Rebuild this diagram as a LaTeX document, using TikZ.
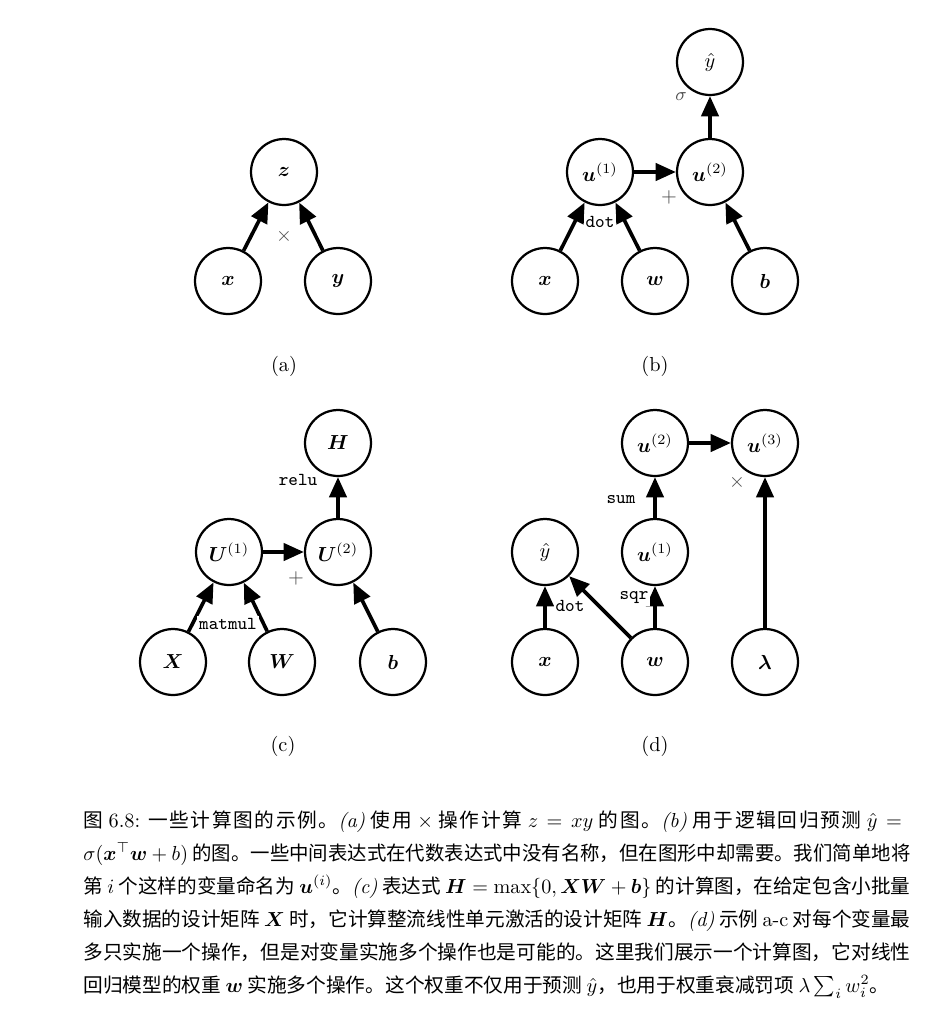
\documentclass[tikz,border=0pt]{standalone}
\usepackage{amsmath,bm,graphicx}
\usepackage{fontspec}
\newfontfamily\cjk[Scale=0.97]{Noto Sans CJK SC}
\usetikzlibrary{arrows.meta}

\makeatletter
% a run of Chinese characters with stretchable glue between them
\newcommand{\cj}[1]{\@tfor\cj@ch:=#1\do{\cj@ch\hskip 0pt plus 1.5pt minus 0.5pt\relax}\unskip}
% one caption line, set exactly to the line width
\newcommand{\capline}[1]{%
  \setbox0=\hbox{#1}%
  \ifdim\wd0>\linewidth
    \edef\caprat{\strip@pt\dimexpr 1pt*\linewidth/\wd0\relax}%
    \hbox{\scalebox{\caprat}[1]{\box0}}%
  \else
    \hbox to\linewidth{#1}%
  \fi}
\makeatother

\tikzset{
  var/.style={circle, draw, line width=1.1pt, minimum size=32.5pt, inner sep=0pt},
  flow/.style={-{Triangle[length=10pt,width=8.5pt]}, line width=1.8pt},
  opname/.style={font=\small\ttfamily, fill=white, inner sep=1pt},
  opsym/.style={text=black!70, inner sep=1pt},
  sublabel/.style={inner sep=1pt}
}

\begin{document}
\begin{tikzpicture}[x=0.4926pt, y=-0.4926pt]
\useasboundingbox (0,0) rectangle (950,1010);

% (a) z = x * y
\node[var] (az) at (284,172) {$\bm{z}$};
\node[var] (ax) at (228,281) {$\bm{x}$};
\node[var] (ay) at (338,281) {$\bm{y}$};
\draw[flow] (ax) -- (az);
\draw[flow] (ay) -- (az);
\node[opsym] (aop) at (284,236) {$\times$};
\node[sublabel] (alab) at (284,366) {(a)};

% (b) logistic regression
\node[var] (byhat) at (710,62) {$\hat{y}$};
\node[var] (bu1) at (600,172) {$\bm{u}^{(1)}$};
\node[var] (bu2) at (710,172) {$\bm{u}^{(2)}$};
\node[var] (bx) at (545,281) {$\bm{x}$};
\node[var] (bw) at (655,281) {$\bm{w}$};
\node[var] (bb) at (765,281) {$\bm{b}$};
\draw[flow] (bx) -- (bu1);
\draw[flow] (bw) -- (bu1);
\draw[flow] (bu1) -- (bu2);
\draw[flow] (bb) -- (bu2);
\draw[flow] (bu2) -- (byhat);
\node[opsym, font=\small] (bsig) at (681,97) {$\sigma$};
\node[opsym] (bplus) at (669,197) {$+$};
\node[opname] (bdot) at (600,222) {dot};
\node[sublabel] (blab) at (655,366) {(b)};

% (c) ReLU layer
\node[var] (cH) at (338,443) {$\bm{H}$};
\node[var] (cU1) at (229,552) {$\bm{U}^{(1)}$};
\node[var] (cU2) at (338,552) {$\bm{U}^{(2)}$};
\node[var] (cX) at (173,662) {$\bm{X}$};
\node[var] (cW) at (282,662) {$\bm{W}$};
\node[var] (cb) at (393,662) {$\bm{b}$};
\draw[flow] (cX) -- (cU1);
\draw[flow] (cW) -- (cU1);
\draw[flow] (cU1) -- (cU2);
\draw[flow] (cb) -- (cU2);
\draw[flow] (cU2) -- (cH);
\node[opname] (crelu) at (298,480) {relu};
\node[opsym] (cplus) at (296,578) {$+$};
\node[opname] (cmat) at (228,624) {matmul};
\node[sublabel] (clab) at (283,746) {(c)};

% (d) linear regression with weight decay
\node[var] (du2) at (655,443) {$\bm{u}^{(2)}$};
\node[var] (du3) at (765,443) {$\bm{u}^{(3)}$};
\node[var] (dyhat) at (545,552) {$\hat{y}$};
\node[var] (du1) at (655,552) {$\bm{u}^{(1)}$};
\node[var] (dx) at (545,662) {$\bm{x}$};
\node[var] (dw) at (655,662) {$\bm{w}$};
\node[var] (dlam) at (765,662) {$\bm{\lambda}$};
\draw[flow] (dx) -- (dyhat);
\draw[flow] (dw) -- (dyhat);
\draw[flow] (dw) -- (du1);
\draw[flow] (du1) -- (du2);
\draw[flow] (du2) -- (du3);
\draw[flow] (dlam) -- (du3);
\node[opname] (dsum) at (621,500) {sum};
\node[opsym] (dtimes) at (737,482) {$\times$};
\node[opname] (ddot) at (570,606) {dot};
\node[opname] (dsqr) at (634,598) {sqr};
\node[sublabel] (dlab) at (655,746) {(d)};

% caption
\node[anchor=base west, inner sep=0pt] (caption) at (83,827) {\parbox[t]{407.4pt}{\fontsize{10pt}{16.26pt}\selectfont\cjk
\capline{\cj{图} {\rmfamily 6.8:} \cj{一些计算图的示例。}{\rmfamily\itshape (a)} \cj{使用} $\times$ \cj{操作计算} $z = xy$ \cj{的图。}{\rmfamily\itshape (b)} \cj{用于逻辑回归预测} $\hat{y} ={}$}%
\capline{$\sigma(\bm{x}^{\top}\bm{w}+b)$ \cj{的图。一些中间表达式在代数表达式中没有名称，但在图形中却需要。我们简单地将}}%
\capline{\cj{第} $i$ \cj{个这样的变量命名为} $\bm{u}^{(i)}$\cj{。}{\rmfamily\itshape (c)} \cj{表达式} $\bm{H} = \max\{0, \bm{X}\bm{W}+\bm{b}\}$ \cj{的计算图，在给定包含小批量}}%
\capline{\cj{输入数据的设计矩阵} $\bm{X}$ \cj{时，它计算整流线性单元激活的设计矩阵} $\bm{H}$\cj{。}{\rmfamily\itshape (d)} \cj{示例} {\rmfamily a-c} \cj{对每个变量最}}%
\capline{\cj{多只实施一个操作，但是对变量实施多个操作也是可能的。这里我们展示一个计算图，它对线性}}%
\hbox{\cj{回归模型的权重} $\bm{w}$ \cj{实施多个操作。这个权重不仅用于预测} $\hat{y}$\cj{，也用于权重衰减罚项} $\lambda\sum_i w_i^2$\cj{。}}}};
\end{tikzpicture}
\end{document}
